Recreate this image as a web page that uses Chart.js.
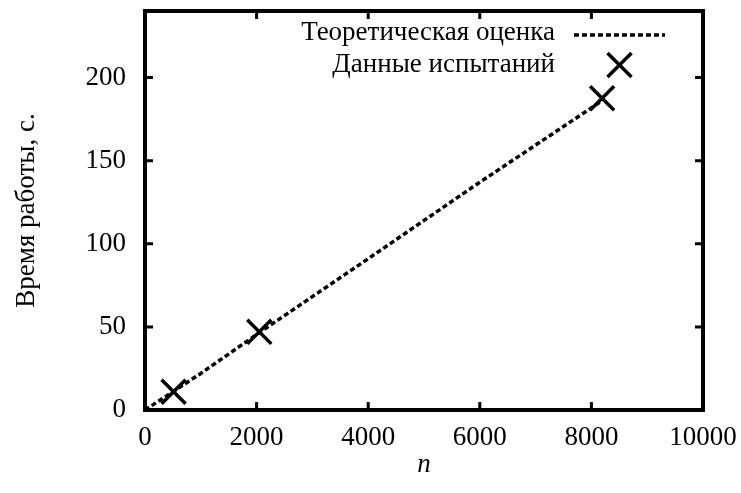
<!DOCTYPE html>
<html><head><meta charset="utf-8">
<script src="https://cdn.jsdelivr.net/npm/chart.js@4"></script>
<style>html,body{margin:0;padding:0;background:#fff;} canvas{display:block}</style>
</head><body>
<canvas id="c" width="741" height="493"></canvas>
<script>
const seriesNames = ['Теоретическая оценка', 'Данные испытаний'];
const theoryN = [0, 1000, 2048, 4000, 6000, 8192];
const theoryTime = [0, 22, 46.5, 91, 137, 186];
const testN = [512, 2048, 8192];
const testTime = [11, 47, 187.5];
const xTicks = [0, 2000, 4000, 6000, 8000, 10000];
const yTicks = [0, 50, 100, 150, 200];
const xRange = [0, 10000];
const yRange = [0, 240];
const xTitle = 'n';
const yTitle = 'Время работы, с.';

const SERIF = '"Liberation Serif", "DejaVu Serif", serif';
const FS = 27;

const frameAndKey = {
  id: 'frameAndKey',
  afterDraw(chart) {
    const {ctx, chartArea: a, scales: {x, y}} = chart;
    ctx.save();
    ctx.strokeStyle = '#000';
    ctx.lineWidth = 3;
    ctx.setLineDash([]);
    ctx.beginPath();
    xTicks.forEach(v => {
      if (v <= xRange[0] || v >= xRange[1]) return;
      const px = x.getPixelForValue(v);
      ctx.moveTo(px, a.bottom); ctx.lineTo(px, a.bottom - 8);
      ctx.moveTo(px, a.top); ctx.lineTo(px, a.top + 8);
    });
    yTicks.forEach(v => {
      if (v <= yRange[0] || v >= yRange[1]) return;
      const py = y.getPixelForValue(v);
      ctx.moveTo(a.left, py); ctx.lineTo(a.left + 8, py);
      ctx.moveTo(a.right, py); ctx.lineTo(a.right - 8, py);
    });
    ctx.stroke();
    ctx.lineWidth = 4;
    ctx.strokeRect(a.left, a.top, a.right - a.left, a.bottom - a.top);

    // key (top right, inside)
    const textRight = a.right - 148;
    const sx0 = a.right - 129, sx1 = a.right - 38;
    const rows = [a.top + 22, a.top + 54];
    ctx.font = FS + 'px ' + SERIF;
    ctx.fillStyle = '#000';
    ctx.textAlign = 'right';
    ctx.textBaseline = 'middle';
    chart.data.datasets.forEach((ds, i) => {
      const ry = rows[i];
      ctx.fillText(ds.label, textRight, ry);
      if (ds.showLine) {
        ctx.save();
        ctx.lineWidth = ds.borderWidth;
        ctx.setLineDash(ds.borderDash || []);
        ctx.beginPath();
        ctx.moveTo(sx0, ry + 2); ctx.lineTo(sx1, ry + 2);
        ctx.stroke();
        ctx.restore();
      } else {
        ctx.save();
        ctx.strokeStyle = ds.borderColor;
        ctx.lineWidth = ds.borderWidth;
        Chart.helpers.drawPoint(ctx, {pointStyle: ds.pointStyle, radius: ds.pointRadius, rotation: 0, borderWidth: ds.borderWidth}, (sx0 + sx1) / 2, ry);
        ctx.restore();
      }
    });
    ctx.restore();
  }
};

const noPad = s => { s.paddingTop = 0; s.paddingBottom = 0; s.paddingLeft = 0; s.paddingRight = 0; };

new Chart(document.getElementById('c'), {
  type: 'scatter',
  data: {
    datasets: [
      {
        label: seriesNames[0],
        data: theoryN.map((n, i) => ({x: n, y: theoryTime[i]})),
        showLine: true,
        borderColor: '#000',
        borderWidth: 3.5,
        borderDash: [5, 3],
        pointRadius: 0,
        fill: false,
        tension: 0
      },
      {
        label: seriesNames[1],
        data: testN.map((n, i) => ({x: n, y: testTime[i]})),
        showLine: false,
        pointStyle: 'crossRot',
        pointRadius: 17,
        borderColor: '#000',
        backgroundColor: '#000',
        borderWidth: 3.5
      }
    ]
  },
  options: {
    responsive: false,
    animation: false,
    devicePixelRatio: 1,
    layout: {autoPadding: false, padding: {top: 11, right: 38, left: 0, bottom: 0}},
    plugins: {legend: {display: false}, tooltip: {enabled: false}},
    scales: {
      x: {
        type: 'linear', min: xRange[0], max: xRange[1],
        afterBuildTicks: s => { s.ticks = xTicks.map(v => ({value: v})); },
        afterFit: s => { s.height = 83; noPad(s); },
        grid: {display: false, drawTicks: false},
        border: {display: false},
        ticks: {color: '#000', font: {family: SERIF, size: FS}, padding: 11.8, maxRotation: 0, autoSkip: false,
                callback: v => String(v)},
        title: {display: true, text: xTitle, color: '#000', font: {family: SERIF, size: FS, style: 'italic'}, padding: {top: 0, bottom: 11.8}}
      },
      y: {
        type: 'linear', min: yRange[0], max: yRange[1],
        afterBuildTicks: s => { s.ticks = yTicks.map(v => ({value: v})); },
        afterFit: s => { s.width = 145; noPad(s); },
        grid: {display: false, drawTicks: false},
        border: {display: false},
        ticks: {color: '#000', font: {family: SERIF, size: FS}, padding: 19, callback: v => String(v)},
        title: {display: true, text: yTitle, color: '#000', font: {family: SERIF, size: FS}, padding: {top: 10.5, bottom: 0}}
      }
    }
  },
  plugins: [frameAndKey]
});
</script>
</body></html>
